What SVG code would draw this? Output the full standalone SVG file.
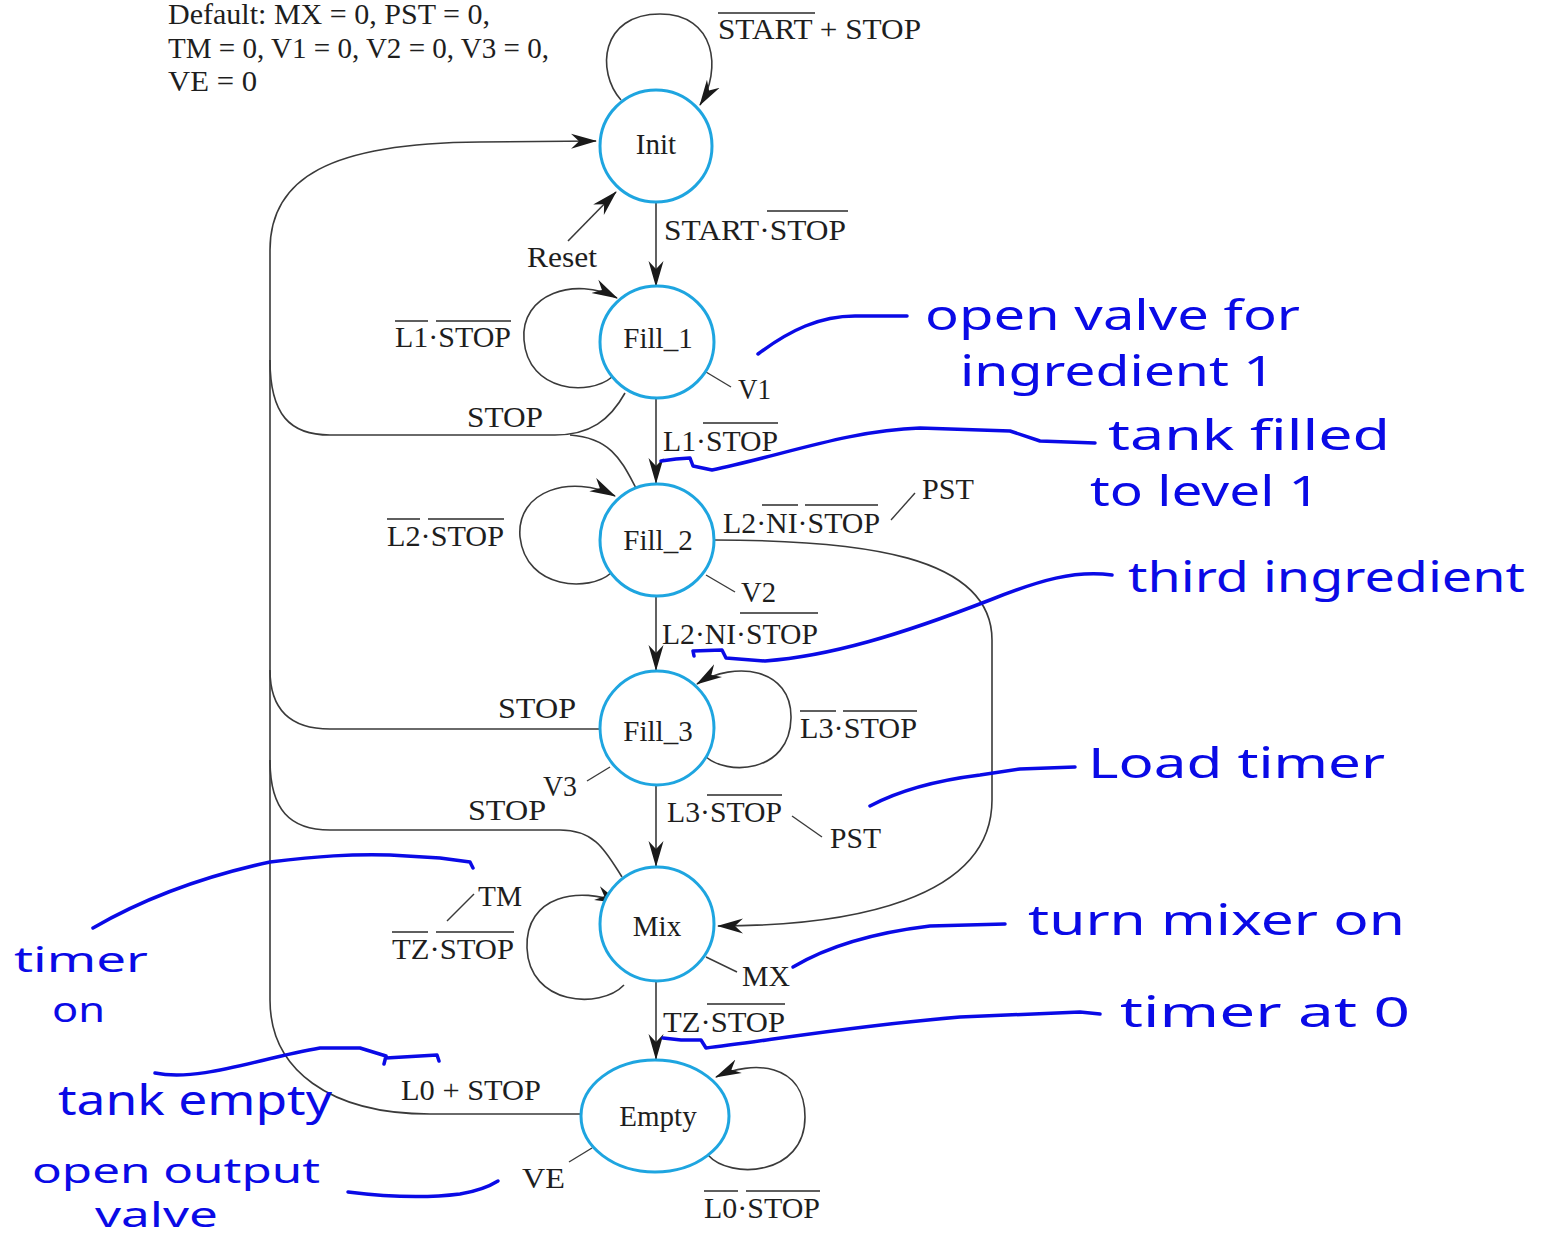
<svg xmlns="http://www.w3.org/2000/svg" width="1544" height="1239" viewBox="0 0 1544 1239">
  <defs>
    <marker id="arrow" markerUnits="userSpaceOnUse" markerWidth="28" markerHeight="18" refX="25" refY="8" orient="auto">
      <path d="M0,0.5 L26,8 L0,15.5 L8,8 Z" fill="#1a1a1a"/>
    </marker>
    <style>
      .state { fill: #ffffff; stroke: #1ea5e0; stroke-width: 3; }
      .wire { fill: none; stroke: #3a3a3a; stroke-width: 1.6; }
      .lead { fill: none; stroke: #3a3a3a; stroke-width: 1.4; }
      .bar { stroke: #2a2a2a; stroke-width: 1.6; }
      .lbl { font-family: "Liberation Serif", "Times New Roman", serif; font-size: 29px; fill: #1e1e1e; }
      .name { font-family: "Liberation Serif", "Times New Roman", serif; font-size: 29px; fill: #1e1e1e; text-anchor: middle; }
      .ink { fill: none; stroke: #0a0ae6; stroke-width: 3.5; stroke-linecap: round; stroke-linejoin: round; }
      .note { font-family: "Noto Sans", "DejaVu Sans", sans-serif; font-size: 42px; fill: #0a0ae6; }
      .note-s { font-family: "Noto Sans", "DejaVu Sans", sans-serif; font-size: 34px; fill: #0a0ae6; }
    </style>
  </defs>

  <rect width="1544" height="1239" fill="#ffffff"/>

  <!-- default output values -->
  <g id="defaults" class="lbl">
    <text x="168" y="24" textLength="322" lengthAdjust="spacingAndGlyphs">Default: MX = 0, PST = 0,</text>
    <text x="168" y="58" textLength="381" lengthAdjust="spacingAndGlyphs">TM = 0, V1 = 0, V2 = 0, V3 = 0,</text>
    <text x="168" y="91" textLength="89" lengthAdjust="spacingAndGlyphs">VE = 0</text>
  </g>

  <!-- transitions -->
  <g id="connectors">
    <!-- main chain -->
    <line class="wire" x1="656" y1="202" x2="656" y2="286" marker-end="url(#arrow)"/>
    <line class="wire" x1="656" y1="398" x2="656" y2="483" marker-end="url(#arrow)"/>
    <line class="wire" x1="656" y1="597" x2="656" y2="670" marker-end="url(#arrow)"/>
    <line class="wire" x1="656" y1="785" x2="656" y2="866" marker-end="url(#arrow)"/>
    <line class="wire" x1="656" y1="981" x2="656" y2="1059" marker-end="url(#arrow)"/>

    <!-- reset -->
    <line class="wire" x1="568" y1="241" x2="616" y2="192" marker-end="url(#arrow)"/>

    <!-- self loops -->
    <path class="wire" d="M621,100 C596,72 600,14 660,14 C716,14 722,70 700,105" marker-end="url(#arrow)"/>
    <path class="wire" d="M612,377 C590,396 528,393 524,340 C520,294 575,276 617,298" marker-end="url(#arrow)"/>
    <path class="wire" d="M611,573 C590,592 526,590 520,537 C516,490 572,474 615,496" marker-end="url(#arrow)"/>
    <path class="wire" d="M705,756 C726,776 790,774 791,718 C792,668 735,660 697,684" marker-end="url(#arrow)"/>
    <path class="wire" d="M624,985 C600,1010 529,1005 527,948 C525,895 580,886 620,903" marker-end="url(#arrow)"/>
    <path class="wire" d="M708,1155 C730,1180 805,1176 805,1117 C805,1062 752,1060 716,1077" marker-end="url(#arrow)"/>

    <!-- STOP return bus back to Init -->
    <path class="wire" d="M270,1000 L270,250 C270,178 330,143 480,142 L596,141" marker-end="url(#arrow)"/>
    <path class="wire" d="M581,1114 L430,1114 C330,1114 270,1070 270,1000"/>
    <path class="wire" d="M625,393 C610,420 590,435 555,435 L330,435 C290,435 270,415 270,360"/>
    <path class="wire" d="M636,488 C622,462 612,438 570,435"/>
    <path class="wire" d="M601,729 L330,729 C290,729 270,710 270,670"/>
    <path class="wire" d="M622,877 C606,852 596,830 560,830 L330,830 C290,830 270,810 270,760"/>

    <!-- Fill_2 straight to Mix -->
    <path class="wire" d="M714,540 C860,540 992,555 992,640 L992,800 C992,900 850,926 718,926" marker-end="url(#arrow)"/>

    <!-- output leaders -->
    <line class="lead" x1="706" y1="372" x2="731" y2="387"/>
    <line class="lead" x1="891" y1="520" x2="915" y2="493"/>
    <line class="lead" x1="706" y1="575" x2="735" y2="592"/>
    <line class="lead" x1="587" y1="781" x2="610" y2="767"/>
    <line class="lead" x1="792" y1="816" x2="822" y2="837"/>
    <line class="lead" x1="447" y1="921" x2="474" y2="894"/>
    <line class="lead" x1="706" y1="957" x2="737" y2="972"/>
    <line class="lead" x1="569" y1="1162" x2="592" y2="1148"/>
  </g>

  <!-- states -->
  <g id="Init">
    <ellipse class="state" cx="656" cy="146" rx="56" ry="56"/>
    <text class="name" x="656" y="154">Init</text>
  </g>
  <g id="Fill_1">
    <ellipse class="state" cx="657" cy="342" rx="57" ry="56"/>
    <text class="name" x="658" y="348">Fill_1</text>
  </g>
  <g id="Fill_2">
    <ellipse class="state" cx="657" cy="540" rx="57" ry="56"/>
    <text class="name" x="658" y="550">Fill_2</text>
  </g>
  <g id="Fill_3">
    <ellipse class="state" cx="657" cy="728" rx="57" ry="57"/>
    <text class="name" x="658" y="741">Fill_3</text>
  </g>
  <g id="Mix">
    <ellipse class="state" cx="657" cy="924" rx="57" ry="57"/>
    <text class="name" x="657" y="936">Mix</text>
  </g>
  <g id="Empty">
    <ellipse class="state" cx="655" cy="1116" rx="74" ry="56"/>
    <text class="name" x="658" y="1126">Empty</text>
  </g>

  <!-- transition conditions and outputs -->
  <g id="labels" class="lbl">
    <text x="718" y="39" textLength="203" lengthAdjust="spacingAndGlyphs">START + STOP</text>
    <text x="664" y="240" textLength="182" lengthAdjust="spacingAndGlyphs">START·STOP</text>
    <text x="527" y="267" textLength="70" lengthAdjust="spacingAndGlyphs">Reset</text>
    <text x="395" y="347" textLength="116" lengthAdjust="spacingAndGlyphs">L1·STOP</text>
    <text x="738" y="399" textLength="33" lengthAdjust="spacingAndGlyphs">V1</text>
    <text x="467" y="427" textLength="76" lengthAdjust="spacingAndGlyphs">STOP</text>
    <text x="663" y="451" textLength="115" lengthAdjust="spacingAndGlyphs">L1·STOP</text>
    <text x="387" y="546" textLength="117" lengthAdjust="spacingAndGlyphs">L2·STOP</text>
    <text x="723" y="533" textLength="157" lengthAdjust="spacingAndGlyphs">L2·NI·STOP</text>
    <text x="922" y="499" textLength="52" lengthAdjust="spacingAndGlyphs">PST</text>
    <text x="741" y="602" textLength="35" lengthAdjust="spacingAndGlyphs">V2</text>
    <text x="662" y="644" textLength="156" lengthAdjust="spacingAndGlyphs">L2·NI·STOP</text>
    <text x="498" y="718" textLength="78" lengthAdjust="spacingAndGlyphs">STOP</text>
    <text x="800" y="738" textLength="117" lengthAdjust="spacingAndGlyphs">L3·STOP</text>
    <text x="543" y="796" textLength="34" lengthAdjust="spacingAndGlyphs">V3</text>
    <text x="468" y="820" textLength="78" lengthAdjust="spacingAndGlyphs">STOP</text>
    <text x="667" y="822" textLength="115" lengthAdjust="spacingAndGlyphs">L3·STOP</text>
    <text x="830" y="848" textLength="51" lengthAdjust="spacingAndGlyphs">PST</text>
    <text x="478" y="906" textLength="44" lengthAdjust="spacingAndGlyphs">TM</text>
    <text x="392" y="959" textLength="122" lengthAdjust="spacingAndGlyphs">TZ·STOP</text>
    <text x="742" y="986" textLength="48" lengthAdjust="spacingAndGlyphs">MX</text>
    <text x="663" y="1032" textLength="122" lengthAdjust="spacingAndGlyphs">TZ·STOP</text>
    <text x="401" y="1100" textLength="140" lengthAdjust="spacingAndGlyphs">L0 + STOP</text>
    <text x="522" y="1188" textLength="43" lengthAdjust="spacingAndGlyphs">VE</text>
    <text x="704" y="1218" textLength="116" lengthAdjust="spacingAndGlyphs">L0·STOP</text>
  </g>

  <!-- complement bars -->
  <g id="overbars" class="bar">
    <line x1="718" y1="13" x2="815" y2="13"/>
    <line x1="767" y1="211" x2="848" y2="211"/>
    <line x1="395" y1="321" x2="428" y2="321"/>
    <line x1="436" y1="321" x2="511" y2="321"/>
    <line x1="703" y1="423" x2="778" y2="423"/>
    <line x1="387" y1="519" x2="420" y2="519"/>
    <line x1="428" y1="519" x2="504" y2="519"/>
    <line x1="762" y1="505" x2="798" y2="505"/>
    <line x1="805" y1="505" x2="878" y2="505"/>
    <line x1="740" y1="613" x2="818" y2="613"/>
    <line x1="800" y1="711" x2="836" y2="711"/>
    <line x1="843" y1="711" x2="917" y2="711"/>
    <line x1="707" y1="795" x2="782" y2="795"/>
    <line x1="392" y1="932" x2="428" y2="932"/>
    <line x1="436" y1="932" x2="514" y2="932"/>
    <line x1="707" y1="1004" x2="785" y2="1004"/>
    <line x1="704" y1="1191" x2="738" y2="1191"/>
    <line x1="746" y1="1191" x2="820" y2="1191"/>
  </g>

  <!-- pen annotations -->
  <g id="ink-strokes" class="ink">
    <path d="M758,354 C790,330 820,316 855,316 L907,316"/>
    <path d="M661,461 L676,459 L690,458 L693,466 L712,470 C780,456 850,430 920,428 L1010,431 L1040,441 L1095,443"/>
    <path d="M694,656 L693,651 L722,650 L726,658 L765,661 C830,656 900,635 990,600 C1040,580 1075,570 1112,575"/>
    <path d="M870,806 C900,790 940,780 980,775 L1020,769 L1075,767"/>
    <path d="M793,967 C830,945 880,932 930,926 L1005,924"/>
    <path d="M663,1038 L681,1040 L701,1040 L706,1048 C760,1042 850,1026 960,1017 L1080,1012 L1100,1014"/>
    <path d="M93,928 C150,895 210,875 270,862 C320,856 350,854 390,855 L440,858 L470,862 L473,868"/>
    <path d="M155,1073 C200,1082 260,1058 320,1048 L360,1048 L386,1056 L384,1064 M386,1058 L437,1055 L439,1061"/>
    <path d="M348,1192 C380,1196 420,1199 460,1194 C478,1191 490,1186 498,1181"/>
  </g>
  <g id="ink-notes">
    <g class="note">
      <text x="925" y="330" textLength="375" lengthAdjust="spacingAndGlyphs">open valve for</text>
      <text x="960" y="386" textLength="315" lengthAdjust="spacingAndGlyphs">ingredient 1</text>
      <text x="1108" y="450" textLength="282" lengthAdjust="spacingAndGlyphs">tank filled</text>
      <text x="1090" y="506" textLength="230" lengthAdjust="spacingAndGlyphs">to level 1</text>
      <text x="1128" y="592" textLength="397" lengthAdjust="spacingAndGlyphs">third ingredient</text>
      <text x="1088" y="778" textLength="297" lengthAdjust="spacingAndGlyphs">Load timer</text>
      <text x="1028" y="935" textLength="377" lengthAdjust="spacingAndGlyphs">turn mixer on</text>
      <text x="1120" y="1027" textLength="290" lengthAdjust="spacingAndGlyphs">timer at 0</text>
      <text x="58" y="1115" textLength="274" lengthAdjust="spacingAndGlyphs">tank empty</text>
    </g>
    <g class="note-s">
      <text x="14" y="972" textLength="134" lengthAdjust="spacingAndGlyphs">timer</text>
      <text x="52" y="1022" textLength="53" lengthAdjust="spacingAndGlyphs">on</text>
      <text x="32" y="1183" textLength="288" lengthAdjust="spacingAndGlyphs">open output</text>
      <text x="95" y="1227" textLength="123" lengthAdjust="spacingAndGlyphs">valve</text>
    </g>
  </g>
</svg>
